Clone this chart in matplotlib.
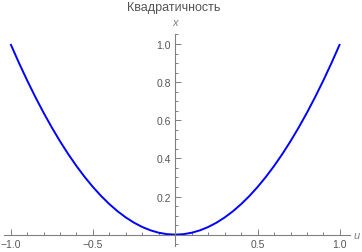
import numpy as np
import matplotlib.pyplot as plt
from matplotlib.ticker import MultipleLocator, FixedLocator

plt.rcParams['font.family'] = ['Liberation Sans', 'DejaVu Sans']

# values
u_vals = [-1.0, -0.95, -0.9, -0.85, -0.8, -0.75, -0.7, -0.65, -0.6, -0.55, -0.5,
          -0.45, -0.4, -0.35, -0.3, -0.25, -0.2, -0.15, -0.1, -0.05, 0.0,
          0.05, 0.1, 0.15, 0.2, 0.25, 0.3, 0.35, 0.4, 0.45, 0.5,
          0.55, 0.6, 0.65, 0.7, 0.75, 0.8, 0.85, 0.9, 0.95, 1.0]
x_vals = [1.0, 0.9025, 0.81, 0.7225, 0.64, 0.5625, 0.49, 0.4225, 0.36, 0.3025, 0.25,
          0.2025, 0.16, 0.1225, 0.09, 0.0625, 0.04, 0.0225, 0.01, 0.0025, 0.0,
          0.0025, 0.01, 0.0225, 0.04, 0.0625, 0.09, 0.1225, 0.16, 0.2025, 0.25,
          0.3025, 0.36, 0.4225, 0.49, 0.5625, 0.64, 0.7225, 0.81, 0.9025, 1.0]

x_ticks = [-1.0, -0.5, 0.5, 1.0]
x_ticklabels = ['\u22121.0', '\u22120.5', '0.5', '1.0']
y_ticks = [0.2, 0.4, 0.6, 0.8, 1.0]
y_ticklabels = ['0.2', '0.4', '0.6', '0.8', '1.0']

title = 'Квадратичность'
gray = '#808080'
label_gray = '#555555'

W, H = 362, 253
fig = plt.figure(figsize=(W / 100, H / 100), dpi=100)
ax = fig.add_axes([4 / W, (H - 246.7) / H, (350.3 - 4) / W, (246.7 - 34.5) / H])

ax.plot(u_vals, x_vals, color='#0000ff', lw=1.4, solid_capstyle='butt')

ax.set_xlim(-1.04, 1.063)
ax.set_ylim(-0.058, 1.055)

for s in ['top', 'right']:
    ax.spines[s].set_visible(False)
ax.spines['left'].set_position(('data', 0))
ax.spines['bottom'].set_position(('data', 0))
for s in ['left', 'bottom']:
    ax.spines[s].set_color(gray)
    ax.spines[s].set_linewidth(0.8)

ax.xaxis.set_major_locator(FixedLocator(x_ticks))
ax.set_xticklabels(x_ticklabels)
ax.xaxis.set_minor_locator(MultipleLocator(0.1))
ax.yaxis.set_major_locator(FixedLocator(y_ticks))
ax.set_yticklabels(y_ticklabels)
ax.yaxis.set_minor_locator(MultipleLocator(0.05))

ax.tick_params(which='both', direction='in', color=gray, width=0.7,
               labelsize=7.5, labelcolor=label_gray)
ax.tick_params(which='major', length=4, pad=3)
ax.tick_params(which='minor', length=2.2)

ax.text(1.085, 0.0, 'u', style='italic', fontsize=8, color=gray,
        ha='left', va='center', transform=ax.transData)
ax.text(0.0, 1.115, 'x', style='italic', fontsize=8, color=gray,
        ha='center', va='center', transform=ax.transData, clip_on=False)

fig.text(174 / W, 1 - 8 / H, title, fontsize=9, color=label_gray,
         ha='center', va='center')

fig.savefig('out.png', dpi=100)
